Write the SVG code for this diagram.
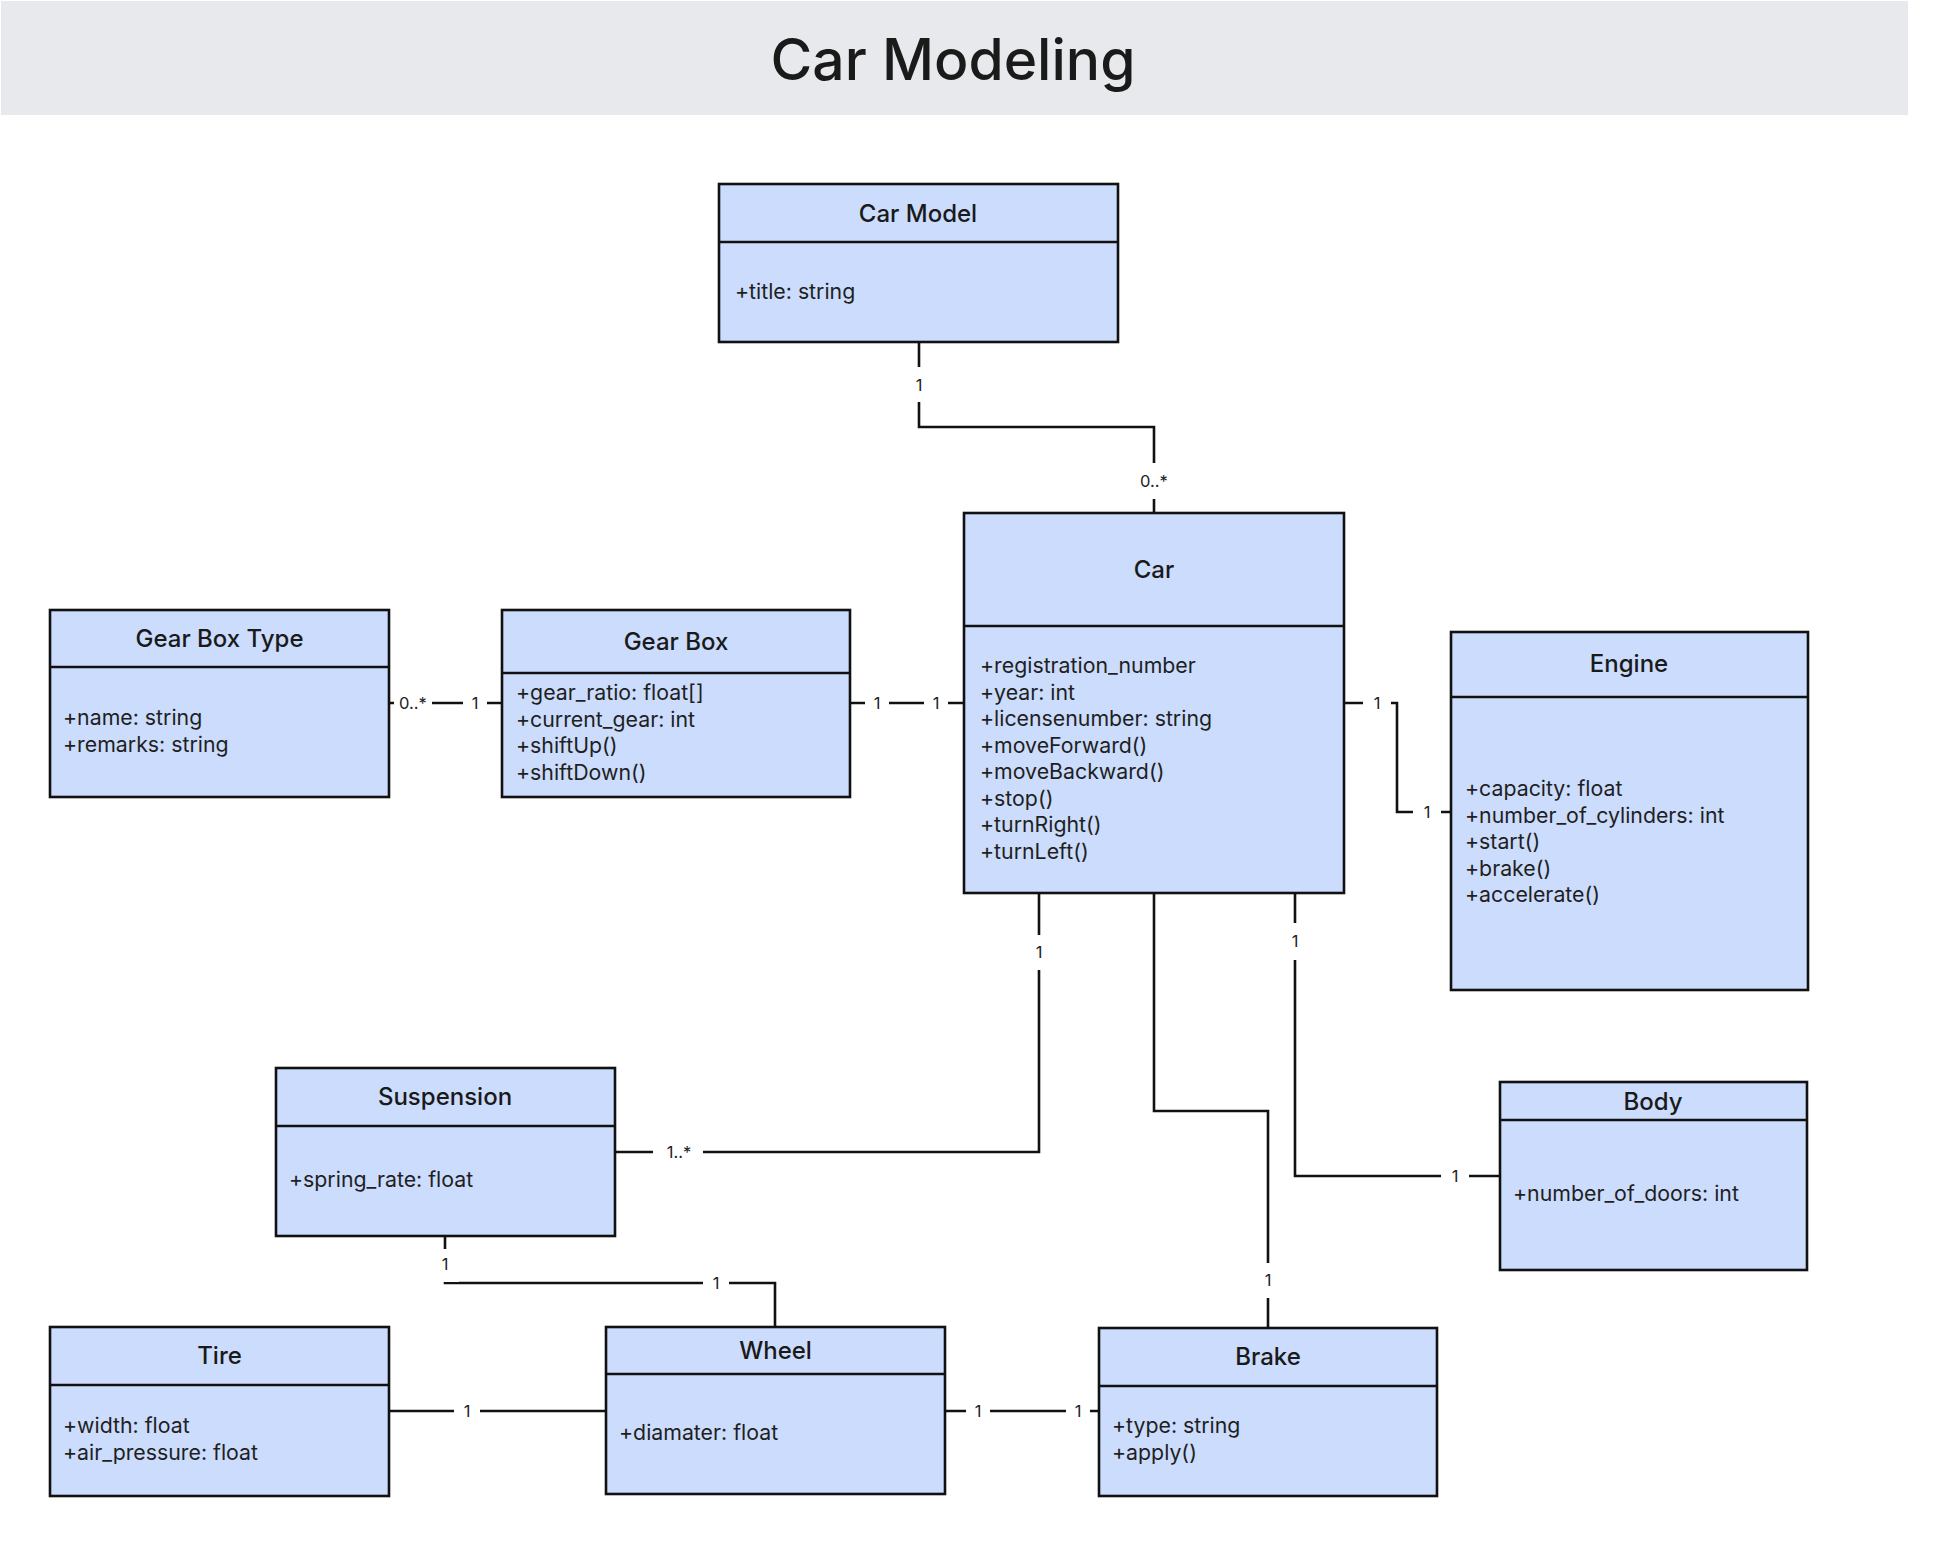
<svg xmlns="http://www.w3.org/2000/svg" width="1941" height="1549" viewBox="0 0 1941 1549">
<style>
.box{fill:#cbdcfc;stroke:#111;stroke-width:2.6}
.div{stroke:#111;stroke-width:2.4}
.ttl{font-family:Inter,"Liberation Sans",sans-serif;font-size:24px;font-weight:500;fill:#1a1a1a;text-anchor:middle}
.att{font-family:Inter,"Liberation Sans",sans-serif;font-size:21.3px;fill:#1f1f1f}
.con{fill:none;stroke:#111;stroke-width:2.6}
.lbg{fill:#ffffff}
.lbl{font-family:Inter,"Liberation Sans",sans-serif;font-size:16.5px;fill:#222;text-anchor:middle}
</style>
<rect x="0" y="0" width="1941" height="1549" fill="#ffffff"/>
<g id="header">
<rect x="1" y="1" width="1907" height="114" fill="#e8e9ed"/>
<text x="953" y="80" font-family="Inter,'Liberation Sans',sans-serif" font-size="57" font-weight="500" fill="#1a1a1a" text-anchor="middle">Car Modeling</text>
</g>
<g id="connectors">
<path class="con" d="M919,342 V427 H1154 V513"/>
<path class="con" d="M389,703 H502"/>
<path class="con" d="M850,703 H964"/>
<path class="con" d="M1344,703 H1397 V812 H1451"/>
<path class="con" d="M1039,893 V1152 H615"/>
<path class="con" d="M1154,893 V1111 H1268 V1327"/>
<path class="con" d="M1295,893 V1176 H1500"/>
<path class="con" d="M445,1236 V1283 H775 V1327"/>
<path class="con" d="M389,1411 H606"/>
<path class="con" d="M945,1411 H1099"/>
<g id="labels">
<rect class="lbg" x="905" y="367" width="28" height="35"/><text class="lbl" x="919" y="391">1</text>
<rect class="lbg" x="1132" y="463" width="44" height="36"/><text class="lbl" x="1154" y="487">0..*</text>
<rect class="lbg" x="394" y="690" width="38" height="26"/><text class="lbl" x="413" y="709">0..*</text>
<rect class="lbg" x="463" y="690" width="24" height="26"/><text class="lbl" x="475" y="709">1</text>
<rect class="lbg" x="865" y="690" width="24" height="26"/><text class="lbl" x="877" y="709">1</text>
<rect class="lbg" x="924" y="690" width="24" height="26"/><text class="lbl" x="936" y="709">1</text>
<rect class="lbg" x="1363" y="690" width="28" height="26"/><text class="lbl" x="1377" y="709">1</text>
<rect class="lbg" x="1413" y="799" width="28" height="26"/><text class="lbl" x="1427" y="818">1</text>
<rect class="lbg" x="1025" y="935" width="28" height="35"/><text class="lbl" x="1039" y="958">1</text>
<rect class="lbg" x="1281" y="923" width="28" height="37"/><text class="lbl" x="1295" y="947">1</text>
<rect class="lbg" x="653" y="1139" width="50" height="26"/><text class="lbl" x="679" y="1158">1..*</text>
<rect class="lbg" x="1254" y="1263" width="28" height="35"/><text class="lbl" x="1268" y="1286">1</text>
<rect class="lbg" x="1441" y="1163" width="28" height="26"/><text class="lbl" x="1455" y="1182">1</text>
<rect class="lbg" x="431" y="1249" width="28" height="33"/><text class="lbl" x="445" y="1270">1</text>
<rect class="lbg" x="703" y="1270" width="26" height="26"/><text class="lbl" x="716" y="1289">1</text>
<rect class="lbg" x="454" y="1398" width="26" height="26"/><text class="lbl" x="467" y="1417">1</text>
<rect class="lbg" x="966" y="1398" width="24" height="26"/><text class="lbl" x="978" y="1417">1</text>
<rect class="lbg" x="1066" y="1398" width="24" height="26"/><text class="lbl" x="1078" y="1417">1</text>
</g>
</g>
<g id="car-model">
<rect class="box" x="719" y="184" width="399" height="158"/>
<line class="div" x1="719" y1="242" x2="1118" y2="242"/>
<text class="ttl" x="918" y="222">Car Model</text>
<text class="att" x="735" y="299">+title: string</text>
</g>
<g id="car">
<rect class="box" x="964" y="513" width="380" height="380"/>
<line class="div" x1="964" y1="626" x2="1344" y2="626"/>
<text class="ttl" x="1154" y="578">Car</text>
<text class="att" x="980" y="673">+registration_number</text>
<text class="att" x="980" y="699.5">+year: int</text>
<text class="att" x="980" y="726">+licensenumber: string</text>
<text class="att" x="980" y="752.5">+moveForward()</text>
<text class="att" x="980" y="779">+moveBackward()</text>
<text class="att" x="980" y="805.5">+stop()</text>
<text class="att" x="980" y="832">+turnRight()</text>
<text class="att" x="980" y="858.5">+turnLeft()</text>
</g>
<g id="gear-box-type">
<rect class="box" x="50" y="610" width="339" height="187"/>
<line class="div" x1="50" y1="667" x2="389" y2="667"/>
<text class="ttl" x="219.5" y="647">Gear Box Type</text>
<text class="att" x="63" y="725">+name: string</text>
<text class="att" x="63" y="751.5">+remarks: string</text>
</g>
<g id="gear-box">
<rect class="box" x="502" y="610" width="348" height="187"/>
<line class="div" x1="502" y1="673" x2="850" y2="673"/>
<text class="ttl" x="676" y="650">Gear Box</text>
<text class="att" x="516" y="700">+gear_ratio: float[]</text>
<text class="att" x="516" y="726.5">+current_gear: int</text>
<text class="att" x="516" y="753">+shiftUp()</text>
<text class="att" x="516" y="779.5">+shiftDown()</text>
</g>
<g id="engine">
<rect class="box" x="1451" y="632" width="357" height="358"/>
<line class="div" x1="1451" y1="697" x2="1808" y2="697"/>
<text class="ttl" x="1629" y="672">Engine</text>
<text class="att" x="1465" y="796">+capacity: float</text>
<text class="att" x="1465" y="822.5">+number_of_cylinders: int</text>
<text class="att" x="1465" y="849">+start()</text>
<text class="att" x="1465" y="875.5">+brake()</text>
<text class="att" x="1465" y="902">+accelerate()</text>
</g>
<g id="suspension">
<rect class="box" x="276" y="1068" width="339" height="168"/>
<line class="div" x1="276" y1="1126" x2="615" y2="1126"/>
<text class="ttl" x="445" y="1105">Suspension</text>
<text class="att" x="289" y="1187">+spring_rate: float</text>
</g>
<g id="body">
<rect class="box" x="1500" y="1082" width="307" height="188"/>
<line class="div" x1="1500" y1="1120" x2="1807" y2="1120"/>
<text class="ttl" x="1653" y="1110">Body</text>
<text class="att" x="1513" y="1201">+number_of_doors: int</text>
</g>
<g id="tire">
<rect class="box" x="50" y="1327" width="339" height="169"/>
<line class="div" x1="50" y1="1385" x2="389" y2="1385"/>
<text class="ttl" x="219.5" y="1364">Tire</text>
<text class="att" x="63" y="1433">+width: float</text>
<text class="att" x="63" y="1459.5">+air_pressure: float</text>
</g>
<g id="wheel">
<rect class="box" x="606" y="1327" width="339" height="167"/>
<line class="div" x1="606" y1="1374" x2="945" y2="1374"/>
<text class="ttl" x="775.5" y="1359">Wheel</text>
<text class="att" x="619" y="1440">+diamater: float</text>
</g>
<g id="brake">
<rect class="box" x="1099" y="1328" width="338" height="168"/>
<line class="div" x1="1099" y1="1386" x2="1437" y2="1386"/>
<text class="ttl" x="1268" y="1365">Brake</text>
<text class="att" x="1112" y="1433">+type: string</text>
<text class="att" x="1112" y="1459.5">+apply()</text>
</g>
</svg>
